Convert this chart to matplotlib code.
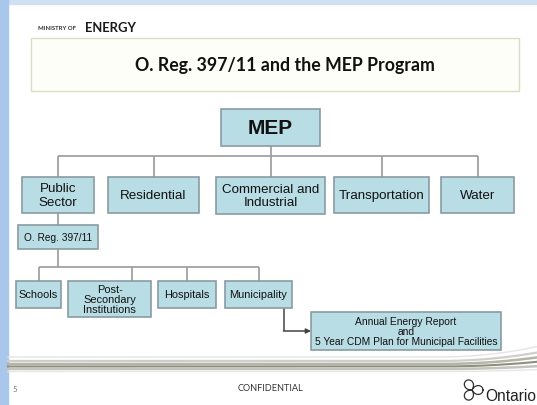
import numpy as np
import matplotlib
matplotlib.use("Agg")
import matplotlib.pyplot as plt
from matplotlib.patches import Rectangle, FancyArrowPatch

# ---- content ----
ministry_small = "MINISTRY OF"
ministry_big = "ENERGY"
title = "O. Reg. 397/11 and the MEP Program"
root_label = "MEP"
level2_labels = ["Public\nSector", "Residential", "Commercial and\nIndustrial", "Transportation", "Water"]
reg_label = "O. Reg. 397/11"
level3_labels = ["Schools", "Post-\nSecondary\nInstitutions", "Hospitals", "Municipality"]
report_label = "Annual Energy Report\nand\n5 Year CDM Plan for Municipal Facilities"
footer_page = "5"
footer_center = "CONFIDENTIAL"
footer_logo = "Ontario"

# ---- layout (pixel coordinates: x0, x1, y0, y1) ----
root_box = (221, 320, 110, 147)
level2_boxes = [(22, 94, 178, 214), (108, 199, 178, 214), (216, 325, 178, 215),
                (334, 429, 178, 214), (441, 514, 178, 214)]
level2_bus_y = 157
reg_box = (18, 98, 226, 250)
level3_boxes = [(16, 61, 282, 309), (68, 151, 282, 318), (158, 216, 282, 309), (225, 292, 282, 309)]
level3_drops = [39, 132, 187, 259]
level3_bus_y = 268
report_box = (311, 501, 313, 351)
arrow_x = 284
arrow_y = 332

FILL = "#b9dde5"
EDGE = "#8a9ca1"
LINE = "#9a9a9a"
TXT = "#111111"
ARIAL = ["Liberation Sans", "DejaVu Sans"]
LATO = ["Lato", "DejaVu Sans"]

fig = plt.figure(figsize=(5.37, 4.06), dpi=100)
ax = fig.add_axes([0, 0, 1, 1])
ax.set_xlim(0, 537)
ax.set_ylim(406, 0)
ax.axis("off")

# background strips
ax.add_patch(Rectangle((0, 0), 537, 5, color="#cfe0f2", zorder=0))
ax.add_patch(Rectangle((0, 0), 8, 406, color="#a9c7ea", zorder=0))

# header
ax.text(38, 28.5, ministry_small, fontsize=4.3, fontweight="bold", color="#333333",
        family=LATO, va="center", ha="left")
ax.text(85, 28, ministry_big, fontsize=9.4, fontweight="bold", color="#1a1a1a",
        family=LATO, va="center", ha="left")
ax.add_patch(Rectangle((31, 39), 488, 53, facecolor="#fefef8", edgecolor="#dcdcc4", lw=1.0, zorder=1))
ax.text(285, 65, title, fontsize=12.8, color="#111111", family=LATO,
        ha="center", va="center", fontweight="bold", zorder=2)


def box(b, label, size, weight="normal", ls=1.15):
    x0, x1, y0, y1 = b
    ax.add_patch(Rectangle((x0, y0), x1 - x0, y1 - y0, facecolor=FILL, edgecolor=EDGE,
                           lw=1.2, zorder=3))
    ax.text((x0 + x1) / 2, (y0 + y1) / 2, label, fontsize=size, fontweight=weight,
            color=TXT, family=ARIAL, ha="center", va="center", linespacing=ls, zorder=4)


def line(xs, ys, color=LINE, lw=1.2):
    ax.plot(xs, ys, color=color, lw=lw, zorder=2, solid_capstyle="butt")


# root and level 2
box(root_box, root_label, 15, weight="bold")
cx_root = (root_box[0] + root_box[1]) / 2
line([cx_root, cx_root], [root_box[3], level2_bus_y])
centers2 = [(b[0] + b[1]) / 2 for b in level2_boxes]
line([centers2[0], centers2[-1]], [level2_bus_y, level2_bus_y])
for b, lab, c in zip(level2_boxes, level2_labels, centers2):
    line([c, c], [level2_bus_y, b[2]])
    box(b, lab, 9.6)

# regulation box
cx_ps = centers2[0]
line([cx_ps, cx_ps], [level2_boxes[0][3], reg_box[2]])
box(reg_box, reg_label, 7.3)

# level 3
line([cx_ps, cx_ps], [reg_box[3], level3_bus_y])
line([level3_drops[0], level3_drops[-1]], [level3_bus_y, level3_bus_y])
for b, lab, d in zip(level3_boxes, level3_labels, level3_drops):
    line([d, d], [level3_bus_y, b[2]])
    box(b, lab, 7.9, ls=1.05)

# report box and arrow
box(report_box, report_label, 7.4, ls=1.05)
line([arrow_x, arrow_x], [level3_boxes[3][3], arrow_y], color="#444444", lw=1.1)
ax.add_patch(FancyArrowPatch((arrow_x - 0.5, arrow_y), (report_box[0], arrow_y),
                             arrowstyle="-|>", mutation_scale=7, color="#444444", lw=1.1,
                             shrinkA=0, shrinkB=0, zorder=4))

# bottom swoosh
xs = np.linspace(8, 537, 400)
bend = np.clip(xs - 440, 0, None)
for y0, k, col, lw in [(358, 0.0011, "#e4e4e4", 1.0), (362, 0.0009, "#cfcfca", 1.6),
                       (365, 0.0007, "#b4b4a8", 1.8), (367.5, 0.0005, "#8f8f80", 1.5),
                       (370, 0.0003, "#c4c4bc", 1.8), (372.5, 0.0002, "#e6e6e6", 1.0)]:
    ax.plot(xs, y0 - k * bend ** 2, color=col, lw=lw, zorder=1)

# footer
ax.text(15, 390, footer_page, fontsize=5.5, color="#777777", family=LATO,
        ha="center", va="center")
ax.text(270, 389, footer_center, fontsize=6.6, color="#333333", family=LATO,
        ha="center", va="center")
ax.text(485, 397, footer_logo, fontsize=11.2, color="#222222", family=ARIAL,
        ha="left", va="center")
th = np.linspace(0, 2 * np.pi, 400)
r = 11 * np.abs(np.cos(1.5 * th)) ** 0.7
ax.plot(472 + r * np.cos(th), 391 - r * np.sin(th), color="#333333", lw=0.9, zorder=2)

fig.savefig("out.png", dpi=100)
